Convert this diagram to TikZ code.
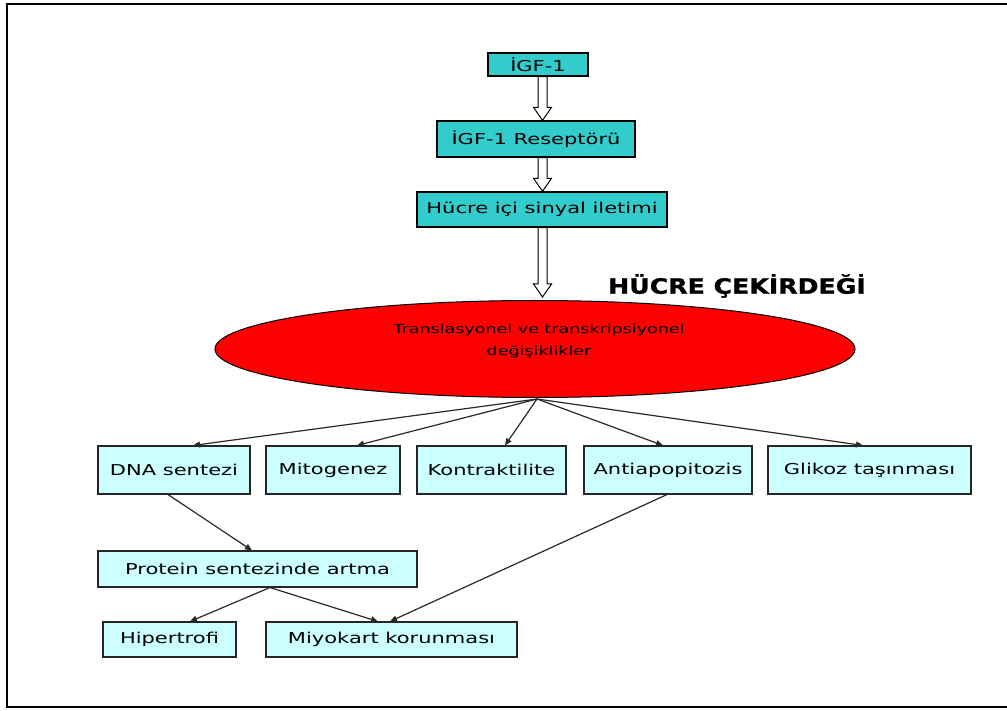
\documentclass[tikz,border=0pt]{standalone}
\usepackage{fontspec}
\setmainfont{DejaVu Sans}
\newfontfamily\boxfont[FakeStretch=1.4]{DejaVu Sans}
\newfontfamily\headfont[FakeStretch=1.2,FakeBold=1.2]{DejaVu Sans Bold}
\usetikzlibrary{arrows.meta,shapes.geometric,calc}
\definecolor{topfill}{RGB}{51,204,204}
\definecolor{lowfill}{RGB}{204,255,255}
\definecolor{linecol}{RGB}{40,40,40}
\newcommand{\hollowarr}[2]{%
  \draw[harrow] ($(#1)+(-4.5,0)$) -- ($(#2)+(-4.5,-13)$) -- ($(#2)+(-9,-13)$) -- (#2)
    -- ($(#2)+(9,-13)$) -- ($(#2)+(4.5,-13)$) -- ($(#1)+(4.5,0)$) -- cycle;}
\begin{document}
\begin{tikzpicture}[x=1pt,y=-1pt,
  topbox/.style={draw=black,fill=topfill,line width=1.3pt,inner sep=0pt,
    font=\boxfont\fontsize{15}{18}\selectfont},
  lowbox/.style={draw=black!85,fill=lowfill,line width=1.1pt,inner sep=0pt,
    font=\boxfont\fontsize{15}{18}\selectfont},
  harrow/.style={draw=black,fill=white,line width=1pt,line join=miter},
  conn/.style={draw=linecol,line width=1.2pt,-{Triangle[length=7pt,width=6pt]}},
  frameline/.style={draw=black,line width=2pt}]
\useasboundingbox (0,0) rectangle (1007,711);
\draw[frameline] (1010,4) -- (7,4) -- (7,707) -- (1010,707);

\coordinate (ax) at (542.5,0);

\node[topbox,minimum width=100,minimum height=23] (igf) at (538,64.5) {İGF-1};
\node[topbox,minimum width=198,minimum height=36] (rec) at (536,139) {İGF-1 Reseptörü};
\node[topbox,minimum width=250,minimum height=35] (sig) at (542,209.5) {Hücre içi sinyal iletimi};

\node[font=\headfont\fontsize{21}{24}\selectfont] (head) at (737,286) {HÜCRE ÇEKİRDEĞİ};

\node[ellipse,draw=black,line width=1pt,fill=red,minimum width=640,minimum height=97,inner sep=0pt] (ell) at (535,349) {};
\node[font=\boxfont\fontsize{12.5}{22}\selectfont,align=center] (elltext) at (539,341)
  {Translasyonel ve transkripsiyonel\\değişiklikler};

\coordinate (tip3) at ($(ell.north -| ax)+(0,-3)$);
\hollowarr{igf.south -| ax}{rec.north -| ax}
\hollowarr{rec.south -| ax}{sig.north -| ax}
\hollowarr{sig.south -| ax}{tip3}

\node[lowbox,minimum width=152,minimum height=48] (dna) at (174,470) {DNA sentezi};
\node[lowbox,minimum width=134,minimum height=48] (mito) at (333,470) {Mitogenez};
\node[lowbox,minimum width=149,minimum height=48] (kon) at (491.5,470) {Kontraktilite};
\node[lowbox,minimum width=168,minimum height=48] (anti) at (668,470) {Antiapopitozis};
\node[lowbox,minimum width=203,minimum height=48] (glik) at (869.5,470) {Glikoz taşınması};

\node[lowbox,minimum width=319,minimum height=36] (prot) at (257.5,569) {Protein sentezinde artma};
\node[lowbox,minimum width=133,minimum height=35] (hip) at (169.5,639.5) {Hipertrofi};
\node[lowbox,minimum width=251,minimum height=35] (miyo) at (391.5,639.5) {Miyokart korunması};

\coordinate (src) at ($(ell.south)+(2,1)$);
\draw[conn] (src) -- ($(dna.north)+(19,0)$);
\draw[conn] (src) -- ($(mito.north)+(24,0)$);
\draw[conn] (src) -- ($(kon.north)+(13.5,0)$);
\draw[conn] (src) -- ($(anti.north)+(-5,0)$);
\draw[conn] (src) -- ($(glik.north)+(-6.5,0)$);

\draw[conn] ($(dna.south)+(-6,0)$) -- ($(prot.north)+(-5.5,0)$);
\draw[conn] ($(prot.south)+(12.5,0)$) -- ($(hip.north)+(20.5,0)$);
\draw[conn] ($(prot.south)+(12.5,0)$) -- ($(miyo.north)+(-13.5,0)$);
\draw[conn] ($(anti.south)+(-1,0)$) -- ($(miyo.north)+(-1.5,0)$);
\end{tikzpicture}
\end{document}
